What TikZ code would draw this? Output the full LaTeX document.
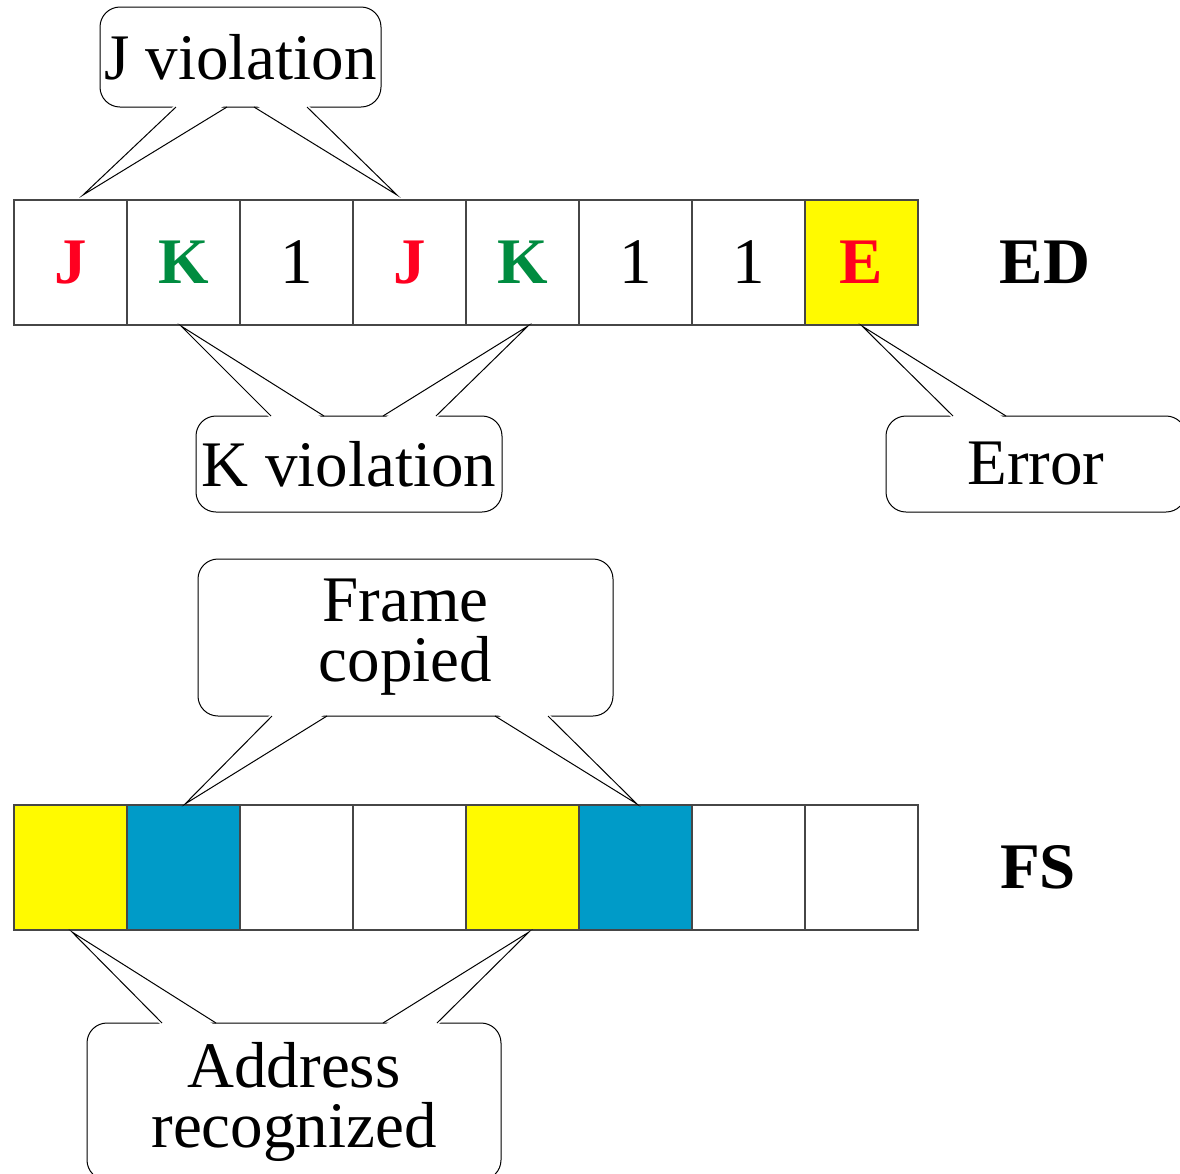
\documentclass[tikz,border=0pt]{standalone}
\usepackage{fontspec}
\setmainfont{Liberation Serif}
\definecolor{jkred}{RGB}{255,0,32}
\definecolor{jkgreen}{RGB}{0,140,64}
\definecolor{fsyellow}{RGB}{255,250,0}
\definecolor{fsteal}{RGB}{0,155,200}
\definecolor{cellgray}{RGB}{70,70,70}
\newcommand{\bigtext}{\fontsize{32.5}{30}\selectfont}
\begin{document}
\begin{tikzpicture}[x=0.5pt,y=-0.5pt,
  cell/.style={draw=cellgray,line width=0.6pt,minimum width=56.5pt,minimum height=62.5pt,inner sep=0pt,font=\bigtext},
  callout/.style={draw,fill=white,line width=0.5pt,rounded corners=10pt,inner sep=0pt,align=center,font=\bigtext}]
\useasboundingbox (0,0) rectangle (1180,1174);
% ED row
\foreach \i/\t/\c/\f in {1/\textbf{J}/jkred/white, 2/\textbf{K}/jkgreen/white, 3/1/black/white, 4/\textbf{J}/jkred/white,
  5/\textbf{K}/jkgreen/white, 6/1/black/white, 7/1/black/white, 8/\textbf{E}/jkred/fsyellow}
  \node[cell,fill=\f,text=\c] (ed\i) at (70.5+113*\i-113,262.5) {\t};
\node[font=\bigtext\bfseries] (edlabel) at (1045,262) {ED};
% FS row
\foreach \i/\f in {1/fsyellow, 2/fsteal, 3/white, 4/white, 5/fsyellow, 6/fsteal, 7/white, 8/white}
  \node[cell,fill=\f] (fs\i) at (70.5+113*\i-113,867.5) {};
\node[font=\bigtext\bfseries] (fslabel) at (1038,867) {FS};
% callouts
\node[callout,minimum width=140.5pt,minimum height=50pt] (jviol) at (240.5,57) {J violation};
\node[callout,minimum width=153pt,minimum height=48pt] (kviol) at (349,464) {K violation};
\node[callout,minimum width=150pt,minimum height=48pt] (err) at (1036,464) {Error};
\node[callout,minimum width=207.5pt,minimum height=78.5pt] (fcopied) at (405.5,637.5) {Frame\\copied};
\node[callout,minimum width=207pt,minimum height=78.5pt] (arecog) at (294,1101.5) {Address\\recognized};
% tails: base, base, erase line, tip
\foreach \ax/\bx/\by/\ey/\tx/\ty in {176/227/107/104/83/195, 254/307/107/104/397/195,
  271/324/416/419/181/326, 383/436/416/419/528/326, 953/1006/416/419/862/326,
  272/327/716/713/185/804, 495/548/716/713/637/804,
  162/216/1023/1026/72/932, 383/437/1023/1026/529/932}{
  \fill[white] (\ax,\ey) -- (\tx,\ty) -- (\bx,\ey) -- cycle;
  \draw[line width=0.5pt] (\ax,\by) -- (\tx,\ty) -- (\bx,\by);
}
\end{tikzpicture}
\end{document}
